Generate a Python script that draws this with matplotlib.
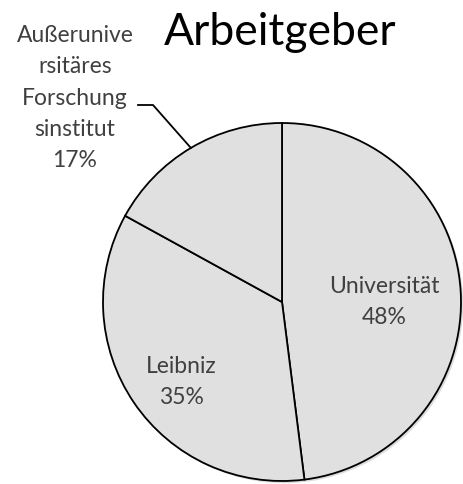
import matplotlib
matplotlib.use("Agg")
import matplotlib.pyplot as plt
import numpy as np
from matplotlib.patches import Circle

categories = ["Universität", "Leibniz", "Außeruniversitäres Forschungsinstitut"]
shares = [48, 35, 17]
label_texts = ["Universität\n48%", "Leibniz\n35%",
               "Außerunive\nrsitäres\nForschung\nsinstitut\n17%"]
title = "Arbeitgeber"

W, H = 463, 485
CX, CY, R = 282, 303, 179

def px(x, y):
    return ((x - CX) / R, (CY - y) / R)

plt.rcParams['font.family'] = ['Lato', 'DejaVu Sans']
fig = plt.figure(figsize=(W / 100, H / 100), dpi=100)
ax = fig.add_axes([0, 0, 1, 1])

# faint shadow
ax.add_patch(Circle((0.012, -0.012), 1.0, color='#bbbbbb', alpha=0.5, zorder=0, lw=0))

wedges, _ = ax.pie(shares, startangle=90, counterclock=False, radius=1.0,
                   colors=['#e0e0e0'] * 3,
                   wedgeprops=dict(edgecolor='black', linewidth=1.3))
for w in wedges:
    w.set_zorder(1)

ax.set_xlim(-CX / R, (W - CX) / R)
ax.set_ylim(-(H - CY) / R, CY / R)
ax.set_aspect('auto')
ax.axis('off')

txt_color = '#404040'
fs = 16.5
kw = dict(ha='center', va='center', fontsize=fs, color=txt_color,
          linespacing=1.6, fontweight='normal')
ax.text(*px(384, 302), label_texts[0], **kw)
ax.text(*px(181, 382), label_texts[1], **kw)
ax.text(*px(75, 98), label_texts[2], **kw)

# leader line for small slice
w = wedges[2]
mid = np.deg2rad((w.theta1 + w.theta2) / 2)
ex, ey = np.cos(mid), np.sin(mid)
p1 = px(138, 106)
p2 = px(153, 106)
ax.plot([p1[0], p2[0], ex], [p1[1], p2[1], ey], color='black', lw=1.3, zorder=3)

ax.text(*px(280, 32), title, ha='center', va='center', fontsize=32,
        color='black', fontweight='normal')

fig.savefig("out.png", dpi=100)
